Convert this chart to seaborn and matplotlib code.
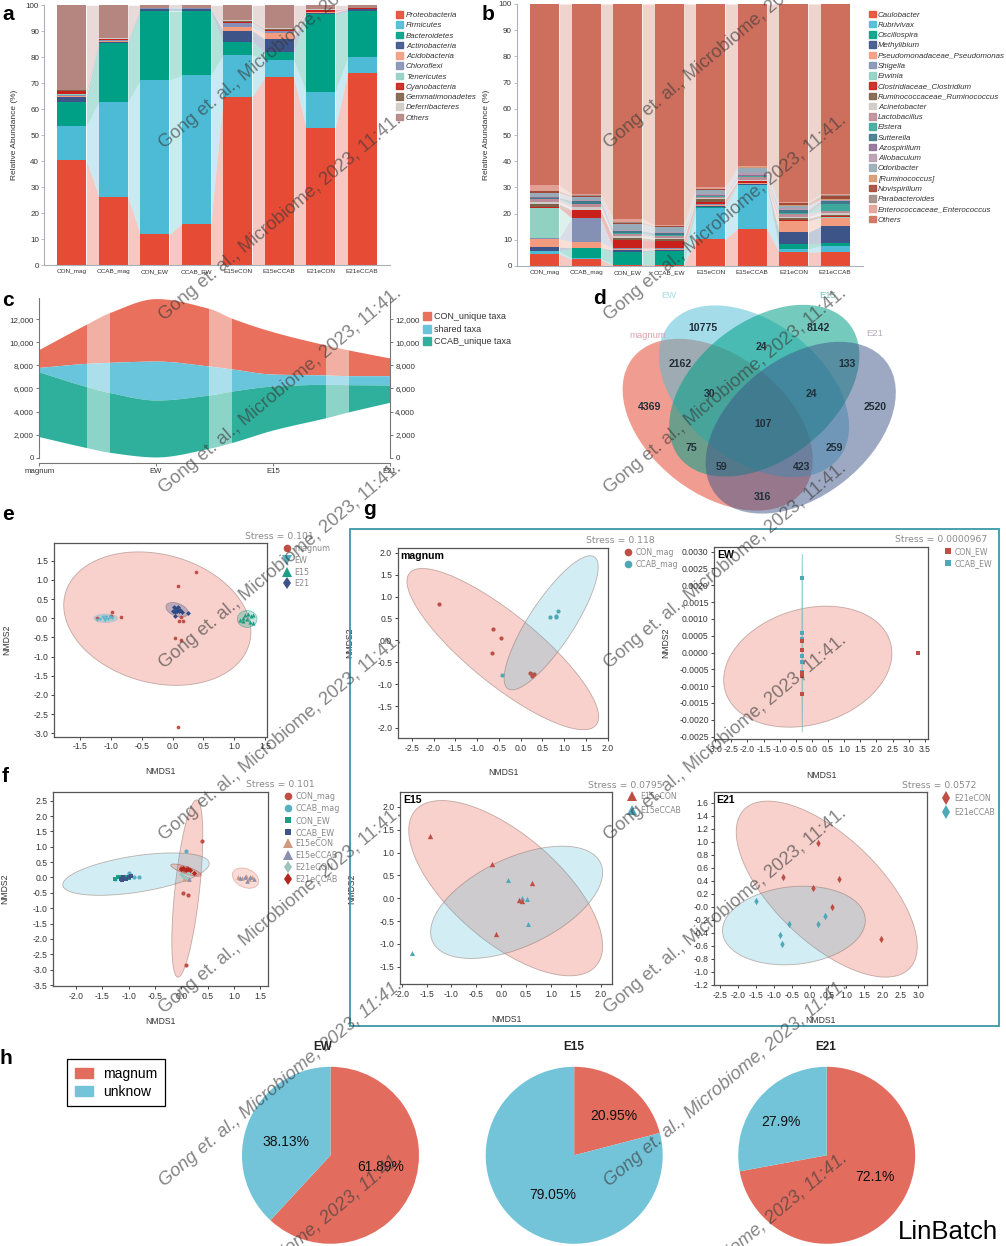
import numpy as np
import matplotlib
matplotlib.use("Agg")
import matplotlib.pyplot as plt
from matplotlib.patches import Patch, Ellipse, Rectangle
from matplotlib.lines import Line2D
from matplotlib.font_manager import FontProperties
from matplotlib.ticker import FormatStrFormatter, FuncFormatter
import seaborn as sns

W, H = 1006, 1246

# ---------- panel a: cumulative stack boundaries per sample (%)
samples = ["CON_mag", "CCAB_mag", "CON_EW", "CCAB_EW", "E15eCON", "E15eCCAB", "E21eCON", "E21eCCAB"]
phyla = ["Proteobacteria", "Firmicutes", "Bacteroidetes", "Actinobacteria", "Acidobacteria", "Chloroflexi",
         "Tenericutes", "Cyanobacteria", "Gemmatimonadetes", "Deferribacteres", "Others"]
phyla_colors = ["#E64B35", "#4DBBD5", "#00A087", "#3C5488", "#F39B7F", "#8491B4", "#91D1C2", "#C8201A",
                "#7E6148", "#CFCBC6", "#B5857F"]
a_con_mag = [40.3, 53.5, 62.8, 64.5, 65.0, 65.5, 66.0, 67.0, 67.3, 67.4, 100]
a_ccab_mag = [26.3, 62.8, 85.5, 86.0, 86.3, 86.5, 86.6, 87.0, 87.2, 87.3, 100]
a_con_ew = [11.8, 71.2, 97.8, 98.6, 98.7, 98.8, 98.9, 99.0, 99.05, 99.1, 100]
a_ccab_ew = [15.8, 73.0, 97.8, 98.6, 98.7, 98.8, 98.9, 99.0, 99.05, 99.1, 100]
a_e15_con = [64.7, 81.0, 86.0, 90.2, 91.5, 93.0, 93.3, 93.5, 94.0, 94.2, 100]
a_e15_ccab = [72.2, 79.0, 82.0, 87.0, 89.3, 90.0, 90.2, 90.4, 91.0, 91.2, 100]
a_e21_con = [52.8, 66.7, 96.5, 97.2, 97.4, 97.5, 97.6, 98.2, 98.3, 98.6, 100]
a_e21_ccab = [73.8, 80.2, 97.7, 98.5, 98.6, 98.7, 98.75, 98.8, 98.9, 99.0, 100]

# ---------- panel b
genera = ["Caulobacter", "Rubrivivax", "Oscillospira", "Methylibium", "Pseudomonadaceae_Pseudomonas", "Shigella",
          "Erwinia", "Clostridiaceae_Clostridium", "Ruminococcaceae_Ruminococcus", "Acinetobacter", "Lactobacillus",
          "Elstera", "Sutterella", "Azospirillum", "Allobaculum", "Odoribacter", "[Ruminococcus]", "Novispirillum",
          "Parabacteroides", "Enterococcaceae_Enterococcus", "Others"]
genera_colors = ["#E64B35", "#4DBBD5", "#00A087", "#3C5488", "#F39B7F", "#8491B4", "#91D1C2", "#C8201A", "#7E6148",
                 "#CFCBC6", "#BC8C98", "#3FA89C", "#3F7A8A", "#8F6F96", "#B79BB0", "#99AAB8", "#D49A72", "#A04A3A",
                 "#A08C84", "#E2A095", "#CD6F5C"]
b_con_mag = [4.6, 5.7, 5.9, 7.2, 10.4, 10.6, 22.3, 22.5, 23.7, 24.5, 25.5, 25.7, 26.0, 26.2, 26.5, 27.8, 28.0, 28.5, 28.8, 31.0, 100]
b_ccab_mag = [2.5, 3.0, 6.8, 7.0, 9.3, 18.3, 18.4, 21.2, 21.5, 22.5, 23.5, 23.7, 24.9, 25.0, 25.3, 26.3, 26.5, 26.7, 27.0, 27.4, 100]
b_con_ew = [0.3, 0.5, 5.5, 6.0, 6.5, 6.7, 6.8, 9.8, 10.8, 11.5, 12.3, 12.5, 13.3, 13.5, 13.7, 16.0, 16.2, 16.5, 16.8, 18.0, 100]
b_ccab_ew = [0.3, 0.5, 5.8, 6.2, 6.6, 6.8, 6.9, 9.5, 10.2, 10.8, 11.5, 11.7, 12.5, 12.6, 12.8, 14.8, 15.0, 15.2, 15.3, 15.6, 100]
b_e15_con = [10.3, 22.0, 22.4, 23.0, 23.3, 23.5, 23.6, 24.3, 25.5, 26.0, 26.4, 26.6, 26.8, 27.0, 27.5, 29.0, 29.1, 29.3, 29.5, 30.0, 100]
b_e15_ccab = [14.2, 31.0, 31.1, 31.3, 31.5, 31.6, 31.7, 32.3, 32.6, 33.0, 34.0, 34.2, 34.4, 34.6, 35.5, 37.5, 37.6, 37.7, 37.8, 38.0, 100]
b_e21_con = [5.2, 6.5, 8.5, 12.9, 17.0, 17.2, 17.3, 17.7, 18.2, 18.8, 20.0, 20.3, 21.3, 21.5, 22.0, 23.0, 23.2, 24.0, 24.2, 24.5, 100]
b_e21_ccab = [5.5, 7.7, 8.6, 15.1, 18.3, 18.5, 18.6, 18.9, 19.4, 20.3, 21.0, 23.8, 24.9, 25.0, 25.2, 25.3, 25.4, 26.8, 27.0, 27.5, 100]

# ---------- panel c: stream boundaries read along the axis
stage_names = ["magnum", "EW", "E15", "E21"]
stream_pos = [0, .405, .605, 1, 1.453, 1.653, 2, 2.455, 2.655, 3]
stream_con_top = [9400, 11590, 12600, 13800, 12950, 12080, 10920, 9770, 9330, 8650]
stream_shared_top = [7830, 8180, 8270, 8380, 7950, 7690, 7250, 7170, 7110, 7110]
stream_ccab_top = [7430, 6160, 5640, 5000, 5430, 5780, 6210, 6360, 6330, 6300]
stream_ccab_bottom = [1820, 870, 460, 60, 810, 1330, 2400, 3470, 3990, 4800]
stream_bands = [(.405, .605), (1.453, 1.653), (2.455, 2.655)]
stream_labels = ["CON_unique taxa", "shared taxa", "CCAB_unique taxa"]

# ---------- panel d: Venn labels
venn_sets = ["magnum", "EW", "E15", "E21"]
venn_numbers = ["10775", "8142", "2162", "24", "133", "30", "24", "4369", "2520", "107", "75", "259", "59", "423", "316"]

# ---------- NMDS points
e_magnum = [(.385, 1.21), (.09, .85), (-.985, .16), (-.845, .03), (-1.01, .06), (-1.23, 0), (.13, .04), (.10, -.07),
            (.17, -.06), (.03, -.51), (.13, -.58), (.09, -2.84)]
e_ew = [(-1.23, -.05), (-1.18, -.02), (-1.14, .02), (-1.1, -.05), (-1.08, .02), (-1.05, -.02), (-1.02, .03), (-1.12, -.01), (-.98, 0)]
e_e15 = [(1.1, -.05), (1.15, 0), (1.18, .08), (1.2, -.03), (1.22, .1), (1.25, -.1), (1.27, .05), (1.3, -.12), (1.3, .08), (1.15, -.08)]
e_e21 = [(0, .2), (.02, .28), (.04, .15), (.05, .25), (.07, .2), (.08, .3), (.1, .18), (.12, .22), (.15, .15), (.03, .05), (.25, .14)]

f_con_mag = [(.39, 1.2), (.03, -.5), (.13, -.58), (.09, -2.84), (.0, .3), (.05, .25), (.1, .3)]
f_ccab_mag = [(.09, .87), (-1.0, .14), (-.8, .03), (-1.25, -.05), (-.9, .02), (-1.15, .0)]
f_con_ew = [(-1.25, -.04), (-1.2, .0), (-1.15, .02), (-1.1, -.03), (-1.05, .03), (-1.0, -.02)]
f_ccab_ew = [(-1.15, -.05), (-1.1, .0), (-1.05, -.05), (-1.0, .02), (-.95, .04), (-1.12, -.08)]
f_e15_con = [(1.08, .0), (1.15, -.02), (1.22, .05), (1.28, -.05), (1.35, .02), (.05, -.05), (.12, -.05)]
f_e15_ccab = [(1.12, -.03), (1.2, .03), (1.25, -.1), (1.3, .0), (1.38, -.05), (.15, -.05)]
f_e21_con = [(.03, .05), (.08, -.02), (.12, .15), (.0, .12)]
f_e21_ccab = [(.0, .28), (.04, .32), (.08, .24), (.12, .28), (.17, .25), (.25, .14)]

g_mag_con = [(-1.87, .84), (-.64, .25), (-.46, .05), (-.66, -.29), (.22, -.74), (.26, -.81), (.3, -.77)]
g_mag_ccab = [(.68, .53), (.81, .53), (.86, .68), (-.42, -.78), (.81, .55), (.25, -.77)]
g_ew_con = [(-.3, .085e-3), (-.3, .35e-3), (-.3, -.7e-3), (-.3, -1.22e-3), (3.29, 0), (-.3, -.62e-3)]
g_ew_ccab = [(-.3, 2.22e-3), (-.3, .58e-3), (-.3, .39e-3), (-.3, -.1e-3), (-.3, -.29e-3), (-.3, -.57e-3)]
g_e15_con = [(-1.44, 1.36), (-.18, .75), (.61, .33), (.36, -.05), (.42, -.07), (-.11, -.78)]
g_e15_ccab = [(.13, .39), (.42, 0), (.52, -.02), (.53, -.57), (-1.79, -1.19)]
g_e21_con = [(-.74, .45), (.22, .98), (.08, .29), (.79, .43), (.61, 0), (1.97, -.5)]
g_e21_ccab = [(-1.5, .08), (-.6, -.26), (-.83, -.44), (-.79, -.57), (.21, -.26), (.4, -.15)]

# ---------- panel h
pie_titles = ["EW", "E15", "E21"]
pie_labels = ["magnum", "unknow"]
pie_ew = [61.89, 38.13]
pie_e15 = [20.95, 79.05]
pie_e21 = [72.1, 27.9]
pie_text_ew = ["61.89%", "38.13%"]
pie_text_e15 = ["20.95%", "79.05%"]
pie_text_e21 = ["72.1%", "27.9%"]

WATERMARK = "Gong et. al., Microbiome, 2023, 11:41."

# ---------- styling
sns.set_theme(style="white")
plt.rcParams["font.family"] = ["Liberation Sans", "DejaVu Sans"]
plt.rcParams["axes.unicode_minus"] = False

RED, BLUE, GREEN, NAVY = "#E64B35", "#4DBBD5", "#00A087", "#3C5488"
PT_RED, PT_BLUE = "#BF4F45", "#4FA8B8"
TXT = "#333333"
LEG_GREY = "#8A8A8A"

fig = plt.figure(figsize=(W / 100, H / 100), dpi=100, facecolor="white")


def axpx(l, t, r, b, **kw):
    return fig.add_axes([l / W, 1 - b / H, (r - l) / W, (b - t) / H], **kw)


def px_legend(handles, labels, x, y1, pitch, fs, hw, hh, tx, family="Liberation Sans", style="normal", color=TXT):
    row = .95 * fs / .72
    return fig.legend(handles, labels, loc="upper left", bbox_to_anchor=(x / W, 1 - (y1 - row / 2) / H),
                      bbox_transform=fig.transFigure, frameon=False, borderpad=0, borderaxespad=0,
                      prop=FontProperties(family=family, style=style, size=fs),
                      labelspacing=pitch * .72 / fs - .95, handlelength=hw * .72 / fs, handleheight=hh * .72 / fs,
                      handletextpad=(tx - x - hw) * .72 / fs, labelcolor=color, numpoints=1)


def stacked(ax, boundaries, names, colors, bar_w=.7, ylabel_x=None):
    boundaries = np.array(boundaries, float)
    for j in range(boundaries.shape[1] - 1, -1, -1):
        sns.barplot(x=samples, y=boundaries[:, j], color=colors[j], width=bar_w, saturation=1, ax=ax, order=samples,
                    linewidth=0, edgecolor="none")
    lows = np.hstack([np.zeros((boundaries.shape[0], 1)), boundaries[:, :-1]])
    for j, c in enumerate(colors):
        for i in range(len(samples) - 1):
            ax.fill_between([i + bar_w / 2, i + 1 - bar_w / 2], [lows[i, j], lows[i + 1, j]],
                            [boundaries[i, j], boundaries[i + 1, j]], color=c, alpha=.3, lw=0)
    ax.set_xlim(-.67, 7.67)
    ax.set_ylim(0, 100)
    ax.set_yticks(range(0, 101, 10))
    for s in ("top", "right"):
        ax.spines[s].set_visible(False)
    for s in ("left", "bottom"):
        ax.spines[s].set_color("#A9B2BA")
        ax.spines[s].set_linewidth(.8)
    ax.tick_params(axis="y", labelsize=5.8, length=2, width=.6, color="#A9B2BA", labelcolor=TXT, pad=1.5, left=True)
    ax.tick_params(axis="x", labelsize=4.6, length=0, labelcolor=TXT, pad=3)
    ax.set_xlabel("")
    ax.set_ylabel("Relative Abundance (%)", fontsize=6, color=TXT)


# ---------- a
ax = axpx(44, 5.3, 390, 265)
stacked(ax, [a_con_mag, a_ccab_mag, a_con_ew, a_ccab_ew, a_e15_con, a_e15_ccab, a_e21_con, a_e21_ccab], phyla, phyla_colors)
ax.yaxis.set_label_coords((18 - 44) / 346, .5)
px_legend([Patch(color=c, alpha=.9) for c in phyla_colors], phyla, 396, 15, 9.77, 5.7, 7, 7, 406, style="italic")

# ---------- b
ax = axpx(516.7, 4, 863, 266)
stacked(ax, [b_con_mag, b_ccab_mag, b_con_ew, b_ccab_ew, b_e15_con, b_e15_ccab, b_e21_con, b_e21_ccab], genera, genera_colors)
ax.yaxis.set_label_coords((490.5 - 516.7) / 346.3, .5)
px_legend([Patch(color=c, alpha=.9) for c in genera_colors], genera, 869, 14.3, 9.8, 5.7, 7, 7, 878, style="italic")


# ---------- c
def smooth(xs, ys, n=400):
    xs, ys = np.asarray(xs, float), np.asarray(ys, float)
    h, d = np.diff(xs), np.diff(ys) / np.diff(xs)
    m = np.zeros_like(xs)
    m[0], m[-1] = d[0], d[-1]
    for i in range(1, len(xs) - 1):
        m[i] = 0 if d[i - 1] * d[i] <= 0 else 2 * d[i - 1] * d[i] / (d[i - 1] + d[i])
    q = np.linspace(xs[0], xs[-1], n)
    k = np.clip(np.searchsorted(xs, q, side="right") - 1, 0, len(h) - 1)
    t = (q - xs[k]) / h[k]
    v = ((2 * t**3 - 3 * t**2 + 1) * ys[k] + (t**3 - 2 * t**2 + t) * h[k] * m[k] +
         (-2 * t**3 + 3 * t**2) * ys[k + 1] + (t**3 - t**2) * h[k] * m[k + 1])
    return q, v


ax = axpx(39.3, 298, 389.7, 463.3)
q, con_top = smooth(stream_pos, stream_con_top)
_, shared_top = smooth(stream_pos, stream_shared_top)
_, ccab_top = smooth(stream_pos, stream_ccab_top)
_, ccab_bottom = smooth(stream_pos, stream_ccab_bottom)
C_RED, C_BLUE, C_GREEN = "#E8705C", "#68C5DC", "#2FB09C"
ax.fill_between(q, shared_top, con_top, color=C_RED, lw=0)
ax.fill_between(q, ccab_top, shared_top, color=C_BLUE, lw=0)
ax.fill_between(q, ccab_bottom, ccab_top, color=C_GREEN, lw=0)
for x0, x1 in stream_bands:
    ax.axvspan(x0, x1, color="white", alpha=.45, lw=0)
ylim_c = (-490, 13850)
ax.set_xlim(0, 3)
ax.set_ylim(*ylim_c)
ax.set_xticks(range(4))
ax.set_xticklabels(stage_names)
ax.set_yticks(range(0, 12001, 2000))
fmt = FuncFormatter(lambda v, _: f"{int(v):,}")
ax.yaxis.set_major_formatter(fmt)
ax2 = ax.twinx()
ax2.set_ylim(*ylim_c)
ax2.set_yticks(range(0, 12001, 2000))
ax2.yaxis.set_major_formatter(fmt)
for a in (ax, ax2):
    a.spines["top"].set_visible(False)
    a.patch.set_alpha(0)
    a.tick_params(axis="y", labelsize=5.8, length=2.5, width=.7, color="#777777", labelcolor=TXT, pad=1.5, left=a is ax, right=a is ax2)
    for s in ("left", "right", "bottom"):
        a.spines[s].set_color("#777777")
        a.spines[s].set_linewidth(.8)
ax.spines["right"].set_visible(False)
ax2.spines["left"].set_visible(False)
ax2.spines["bottom"].set_visible(False)
ax.spines["left"].set_bounds(0, ylim_c[1])
ax2.spines["right"].set_bounds(0, ylim_c[1])
ax.tick_params(axis="x", labelsize=5.6, length=2, width=.7, color="#777777", labelcolor=TXT, pad=1.5, bottom=True)
px_legend([Patch(color=c) for c in (C_RED, C_BLUE, C_GREEN)], stream_labels, 422.5, 316.7, 12, 6.5, 8.5, 8.5, 433.5)

# ---------- d
ax = axpx(590, 280, 910, 520)
ax.set_xlim(590, 910)
ax.set_ylim(520, 280)
ax.axis("off")
venn_centers = [(717.7, 424.7), (754, 391.3), (764.3, 390.7), (800.7, 427.7)]
venn_angles = [38, 38, -38, -38]
venn_colors = [RED, BLUE, GREEN, NAVY]
venn_alphas = [.55, .5, .55, .5]
for ctr, ang, c, al in zip(venn_centers, venn_angles, venn_colors, venn_alphas):
    ax.add_patch(Ellipse(ctr, 216, 138, angle=ang, facecolor=c, alpha=al, lw=0))
venn_name_xy = [(648, 335), (669, 295), (828, 295), (875, 334)]
venn_name_col = ["#D9A2B0", "#A5DDE6", "#78BDB2", "#B5AEBE"]
for name, xy, c in zip(venn_sets, venn_name_xy, venn_name_col):
    ax.text(*xy, name, color=c, fontsize=6.8, ha="center", va="center")
venn_xy = [(340, 145), (685, 145), (272, 253), (513, 200), (770, 253), (360, 343), (665, 343), (180, 380), (855, 380),
           (518, 433), (305, 505), (733, 505), (395, 560), (634, 560), (518, 650)]
for s, (zx, zy) in zip(venn_numbers, venn_xy):
    ax.text(590 + zx / 3, 280 + zy / 3, s, color="#22303A", fontsize=7.6, fontweight="bold", ha="center", va="center")


# ---------- NMDS helpers
def conf_ellipse(ax, cx, cy, hw, hh, rho, color, alpha=.25, edge="#8A6A62"):
    t = np.linspace(0, 2 * np.pi, 300)
    x = cx + hw * np.cos(t)
    y = cy + hh * (rho * np.cos(t) + np.sqrt(1 - rho**2) * np.sin(t))
    ax.fill(x, y, facecolor=matplotlib.colors.to_rgba(color, alpha),
            edgecolor=matplotlib.colors.to_rgba(edge, .5), lw=.6)


def pts(ax, data, color, marker="o", size=9):
    d = np.array(data)
    sns.scatterplot(x=d[:, 0], y=d[:, 1], color=color, marker=marker, s=size, linewidth=0, ax=ax, zorder=4, legend=False)


def finish(ax, xlim, ylim, xticks, yticks, xlab_px, ylab_px, box, yfmt="%.1f", xl=True, yl=True, fs=6.2):
    ax.set_xlim(*xlim)
    ax.set_ylim(*ylim)
    ax.set_xticks(xticks)
    ax.set_yticks(yticks)
    ax.xaxis.set_major_formatter(FormatStrFormatter("%.1f"))
    ax.yaxis.set_major_formatter(FormatStrFormatter(yfmt))
    ax.tick_params(labelsize=fs, length=2.5, width=.7, color="#444444", labelcolor=TXT, pad=1.5, left=True, bottom=True)
    for s in ax.spines.values():
        s.set_color("#555555")
        s.set_linewidth(.9)
        s.set_visible(True)
    l, t, r, b = box
    if xl:
        ax.set_xlabel("NMDS1", fontsize=6.2, color=TXT)
        ax.xaxis.set_label_coords(.5, -(xlab_px - b) / (b - t))
    else:
        ax.set_xlabel("")
    if yl:
        ax.set_ylabel("NMDS2", fontsize=6.2, color=TXT)
        ax.yaxis.set_label_coords((ylab_px - l) / (r - l), .5)
    else:
        ax.set_ylabel("")


def stress(x, y, s):
    fig.text(x / W, 1 - y / H, s, color=LEG_GREY, fontsize=6.7, family="DejaVu Sans", ha="center", va="center")


def mk(m, c, ms=5):
    return Line2D([], [], marker=m, color=c, linestyle="none", markersize=ms, markeredgewidth=0)


def inset_title(ax, s):
    ax.text(.012, .985, s, transform=ax.transAxes, fontsize=7.6, fontweight="bold", color="black", va="top", ha="left")


tick05 = lambda a, b: list(np.arange(a, b + .001, .5))

# ---------- e
box = (53.7, 543.3, 266.7, 736.7)
ax = axpx(*box)
conf_ellipse(ax, -.25, -.01, 1.52, 1.74, -.2, RED)
conf_ellipse(ax, -1.09, 0, .19, .11, 0, BLUE, .35, "#9ABBC4")
conf_ellipse(ax, .07, .22, .18, .19, -.4, NAVY, .3, "#5A6A8A")
conf_ellipse(ax, 1.21, -.02, .16, .22, 0, GREEN, .25, "#2F9C88")
pts(ax, e_magnum, PT_RED, "o", 7)
pts(ax, e_ew, "#5BB7D0", "v", 7)
pts(ax, e_e15, "#1E9E84", "^", 9)
pts(ax, e_e21, "#2C4A85", "D", 6)
finish(ax, (-1.933, 1.527), (-3.089, 1.954), tick05(-1.5, 1.5), tick05(-3, 1.5), 766.7, 11, box)
stress(279.5, 536.7, "Stress = 0.101")
px_legend([mk("o", PT_RED, 5.5), mk("v", "#4FB3C8", 6.5), mk("^", "#1E9E84", 6.5), mk("d", "#3C5488", 6)],
          ["magnum", "EW", "E15", "E21"], 282, 548, 10.4, 5.8, 9, 7, 294.5, "DejaVu Sans", color=LEG_GREY)

# ---------- f
box = (53.3, 791.7, 267.7, 986)
ax = axpx(*box)
conf_ellipse(ax, .114, -.36, .294, 2.885, .6, RED)
conf_ellipse(ax, -.86, .11, 1.39, .69, .5, BLUE)
conf_ellipse(ax, .09, .24, .29, .2, -.8, RED, .25, "#B0453A")
conf_ellipse(ax, 1.22, -.02, .25, .33, -.3, RED, .2, "#C78878")
pts(ax, f_ccab_mag, "#57AFC0", "o", 9)
pts(ax, f_con_mag, PT_RED, "o", 9)
pts(ax, f_con_ew, "#1E9E84", "s", 7)
pts(ax, f_ccab_ew, "#3C5488", "s", 7)
pts(ax, f_e15_con, "#CF9A80", "^", 11)
pts(ax, f_e15_ccab, "#8A8FB0", "^", 11)
pts(ax, f_e21_con, "#9CC5BD", "D", 7)
pts(ax, f_e21_ccab, "#B3261E", "D", 7)
finish(ax, (-2.43, 1.64), (-3.532, 2.793), tick05(-2, 1.5), tick05(-3.5, 2.5), 1016.7, 9.3, box)
stress(280.7, 784.3, "Stress = 0.101")
px_legend([mk("o", PT_RED, 5.5), mk("o", "#57AFC0", 5.5), mk("s", "#1E9E84", 4.5), mk("s", "#3C5488", 4.5),
           mk("^", "#CF9A80", 6.5), mk("^", "#8A8FB0", 6.5), mk("d", "#9CC5BD", 6.5), mk("d", "#B3261E", 6.5)],
          ["CON_mag", "CCAB_mag", "CON_EW", "CCAB_EW", "E15eCON", "E15eCCAB", "E21eCON", "E21eCCAB"],
          283.5, 796, 10.48, 5.8, 9, 7, 295.7, "DejaVu Sans", color=LEG_GREY)

# ---------- g frame
fig.patches.append(Rectangle((349.5 / W, 1 - 1025.7 / H), (999.3 - 349.5) / W, (1025.7 - 529) / H,
                             transform=fig.transFigure, fill=False, edgecolor="#3E97A8", lw=1.3, figure=fig))

# g magnum
box = (397.7, 547.7, 608.3, 738.3)
ax = axpx(*box)
conf_ellipse(ax, -.41, -.2, 2.2, 1.84, -.84, RED)
conf_ellipse(ax, .7, .4, 1.08, 1.53, .83, BLUE)
pts(ax, g_mag_ccab, PT_BLUE)
pts(ax, g_mag_con, PT_RED)
finish(ax, (-2.823, 2.012), (-2.236, 2.114), tick05(-2.5, 2), tick05(-2, 2), 768.3, 354.3, box)
inset_title(ax, "magnum")
stress(620.7, 540.3, "Stress = 0.118")
px_legend([mk("o", PT_RED, 5.5), mk("o", PT_BLUE, 5.5)], ["CON_mag", "CCAB_mag"], 624, 551.7, 10.4, 5.6, 8.6, 7, 635.7,
          "DejaVu Sans", color=LEG_GREY)

# g EW
box = (714.3, 546.7, 928.3, 739.3)
ax = axpx(*box)
conf_ellipse(ax, -.13, -.42e-3, 2.61, 1.80e-3, .22, RED)
conf_ellipse(ax, -.3, .275e-3, .015, 2.65e-3, 0, BLUE, .4, "#6DB7C4")
pts(ax, g_ew_ccab, PT_BLUE, "s", 9)
pts(ax, g_ew_con, PT_RED, "s", 9)
finish(ax, (-3.03, 3.61), (-2.58e-3, 3.148e-3), tick05(-3, 3.5), list(np.arange(-.0025, .00301, .0005)), 770.7, 670, box, yfmt="%.4f")
inset_title(ax, "EW")
stress(940.7, 539.3, "Stress = 0.0000967")
px_legend([mk("s", PT_RED, 4.5), mk("s", PT_BLUE, 4.5)], ["CON_EW", "CCAB_EW"], 944, 551, 10.2, 5.6, 8, 7, 955,
          "DejaVu Sans", color=LEG_GREY)

# g E15
box = (400.3, 792.3, 612.3, 984.3)
ax = axpx(*box)
conf_ellipse(ax, .09, .22, 1.95, 1.92, -.66, RED)
conf_ellipse(ax, .31, -.09, 1.73, 1.23, .53, BLUE)
pts(ax, g_e15_ccab, PT_BLUE, "^", 13)
pts(ax, g_e15_con, PT_RED, "^", 15)
finish(ax, (-2.03, 2.235), (-1.886, 2.32), tick05(-2, 2), tick05(-1.5, 2), 1015, 356.7, box)
inset_title(ax, "E15")
stress(625, 785.3, "Stress = 0.0795")
px_legend([mk("^", PT_RED, 7), mk("^", PT_BLUE, 7)], ["E15eCON", "E15eCCAB"], 627.5, 796, 11.7, 5.6, 9.6, 7, 640.7,
          "DejaVu Sans", color=LEG_GREY)

# g E21
box = (714, 792.3, 927, 985.3)
ax = axpx(*box)
conf_ellipse(ax, .46, .27, 2.51, 1.354, -.65, RED)
conf_ellipse(ax, -.45, -.29, 1.98, .605, .13, BLUE)
pts(ax, g_e21_ccab, PT_BLUE, "d", 14)
pts(ax, g_e21_con, PT_RED, "d", 14)
finish(ax, (-2.666, 3.24), (-1.21, 1.759), tick05(-2.5, 3), list(np.arange(-1.2, 1.61, .2)), 1015.7, 670, box, yl=False)
inset_title(ax, "E21")
stress(939.3, 785.7, "Stress = 0.0572")
px_legend([mk("d", PT_RED, 7), mk("d", PT_BLUE, 7)], ["E21eCON", "E21eCCAB"], 941.5, 797.3, 12.7, 5.6, 9.6, 7, 954,
          "DejaVu Sans", color=LEG_GREY)

# ---------- h
P_RED, P_BLUE = "#E26D5F", "#73C4D9"
pie_centers = [330.5, 574.2, 826.7]
pie_data = [pie_ew, pie_e15, pie_e21]
pie_texts = [pie_text_ew, pie_text_e15, pie_text_e21]
pie_text_xy = [[(.565, -.13), (-.508, .15)], [(.45, .444), (-.24, -.45)], [(.54, -.25), (-.52, .377)]]
title_x = [323, 574, 825.7]
for cx, vals, txts, xy, title, tx in zip(pie_centers, pie_data, pie_texts, pie_text_xy, pie_titles, title_x):
    ax = axpx(cx - 88.5, 1155.3 - 89, cx + 88.5, 1155.3 + 89)
    ax.pie(vals, colors=[P_RED, P_BLUE], startangle=90, counterclock=False, radius=1, wedgeprops=dict(linewidth=0))
    ax.set_xlim(-1, 1)
    ax.set_ylim(-1, 1)
    for s, (x, y) in zip(txts, xy):
        ax.text(x, y, s, fontsize=10, color="#111111", ha="center", va="center")
    fig.text(tx / W, 1 - 1046.7 / H, title, fontsize=8.5, fontweight="bold", color="#222222", ha="center", va="center")

fig.legend([Patch(color=P_RED), Patch(color=P_BLUE)], pie_labels, loc="upper left",
           bbox_to_anchor=(67.4 / W, 1 - 1059.3 / H), bbox_transform=fig.transFigure, frameon=True, fancybox=False,
           edgecolor="black", framealpha=1, borderaxespad=0, borderpad=.55, fontsize=10, labelspacing=.28,
           handlelength=1.3, handleheight=.8, handletextpad=.75, labelcolor="black").get_frame().set_linewidth(.9)
fig.text(947.5 / W, 1 - 1231.7 / H, "LinBatch", fontsize=18.5, color="black", ha="center", va="center")

# ---------- panel letters
letters = ["a", "b", "c", "d", "e", "f", "g", "h"]
letter_xy = [(8, 15), (488, 14), (7.5, 300), (600, 299), (8, 515), (5, 776.5), (370, 510), (6, 1058)]
for s, (x, y) in zip(letters, letter_xy):
    fig.text(x / W, 1 - y / H, s, fontsize=15, fontweight="bold", color="black", ha="center", va="center", zorder=20)

# ---------- watermark
wm_cols = [164, 609]
wm_rows = [149, 321, 494, 669, 841, 1014, 1187, 1360]
for y in wm_rows:
    for x in wm_cols:
        fig.text(x / W, 1 - y / H, WATERMARK, fontsize=13.2, color="#3A3A3A", alpha=.62, rotation=40,
                 rotation_mode="anchor", ha="left", va="baseline", zorder=30,
                 style="italic" if y > 1100 else "normal")

fig.savefig("out.png", dpi=100, facecolor="white")
